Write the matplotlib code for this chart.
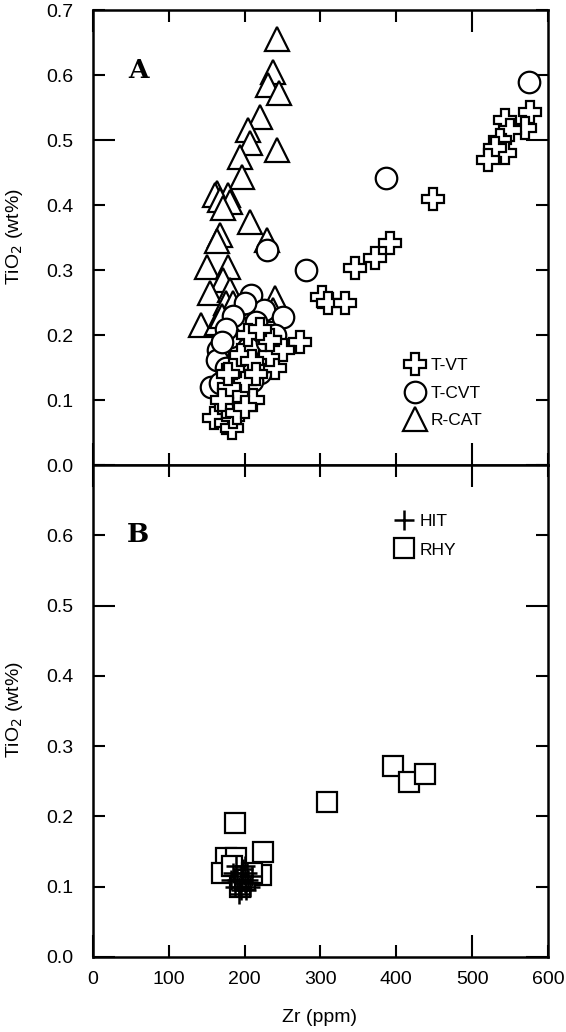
import matplotlib
matplotlib.use("Agg")
import matplotlib.pyplot as plt
from matplotlib.ticker import FixedLocator, MultipleLocator, FormatStrFormatter, NullFormatter

plt.rcParams['font.family'] = ['Liberation Sans', 'DejaVu Sans']

# ---- Panel A data (Zr ppm, TiO2 wt%) ----
tvt_zr = [543, 576, 570, 550, 537, 543, 530, 521, 448, 392, 372, 345, 302, 310, 332,
          273, 242, 240, 233, 251, 233, 211, 159, 176, 183, 185, 175, 190, 200, 185,
          195, 210, 180, 170, 205, 220, 190, 178, 200, 215]
tvt_ti = [0.531, 0.543, 0.518, 0.515, 0.500, 0.480, 0.488, 0.469, 0.410, 0.342, 0.318, 0.303, 0.258, 0.250, 0.250,
          0.190, 0.182, 0.149, 0.169, 0.177, 0.192, 0.100, 0.072, 0.064, 0.057, 0.074, 0.090, 0.110, 0.130, 0.150,
          0.170, 0.160, 0.120, 0.100, 0.200, 0.210, 0.080, 0.140, 0.090, 0.140]

tcvt_zr = [575, 387, 281, 229, 209, 225, 251, 194, 181, 165, 163, 156, 167, 196, 220,
           200, 215, 185, 175, 205, 230, 190, 175, 210, 180, 200, 230, 240, 170]
tcvt_ti = [0.590, 0.441, 0.300, 0.331, 0.262, 0.238, 0.228, 0.213, 0.197, 0.177, 0.162, 0.120, 0.126, 0.120, 0.141,
           0.250, 0.220, 0.230, 0.210, 0.180, 0.160, 0.150, 0.150, 0.130, 0.100, 0.100, 0.190, 0.200, 0.190]

rcat_zr = [242, 238, 231, 245, 220, 205, 207, 242, 194, 196, 163, 178, 161, 167, 181,
           172, 207, 229, 167, 163, 150, 178, 172, 154, 181, 240, 176, 238, 143, 163,
           194, 185, 170]
rcat_ti = [0.655, 0.605, 0.585, 0.572, 0.536, 0.515, 0.495, 0.485, 0.474, 0.443, 0.418, 0.415, 0.415, 0.408, 0.405,
           0.395, 0.374, 0.346, 0.354, 0.344, 0.305, 0.305, 0.285, 0.264, 0.270, 0.257, 0.249, 0.238, 0.215, 0.218,
           0.238, 0.250, 0.230]

# ---- Panel B data ----
hit_zr = [185, 190, 195, 200, 205, 192, 198, 188, 203, 195, 210, 182, 200, 193, 207, 187, 197, 202]
hit_ti = [0.120, 0.110, 0.115, 0.105, 0.110, 0.100, 0.125, 0.130, 0.120, 0.095, 0.115, 0.110, 0.130, 0.090,
          0.100, 0.100, 0.110, 0.095]

rhy_zr = [396, 417, 438, 309, 187, 224, 176, 189, 170, 222, 194, 183, 200, 210]
rhy_ti = [0.272, 0.249, 0.261, 0.221, 0.191, 0.150, 0.141, 0.141, 0.120, 0.117, 0.100, 0.129, 0.110, 0.120]

mk = dict(linestyle='none', markerfacecolor='white', markeredgecolor='black', markeredgewidth=1.6)

fig = plt.figure(figsize=(5.66, 10.32), dpi=100)
axA = fig.add_axes([0.1643, 0.5494, 0.8039, 0.4409])
axB = fig.add_axes([0.1643, 0.0727, 0.8039, 0.4767])

axA.plot(rcat_zr, rcat_ti, marker='^', markersize=17, label='R-CAT', **mk)
axA.plot(tcvt_zr, tcvt_ti, marker='o', markersize=15.5, label='T-CVT', **mk)
axA.plot(tvt_zr, tvt_ti, marker='P', markersize=16, label='T-VT', **mk)

axB.plot(rhy_zr, rhy_ti, marker='s', markersize=15, label='RHY', **mk)
axB.plot(hit_zr, hit_ti, marker='+', markersize=15, color='black', markeredgewidth=1.8,
         linestyle='none', label='HIT')

for ax in (axA, axB):
    ax.set_xlim(0, 600)
    ax.set_ylim(0, 0.7)
    for s in ax.spines.values():
        s.set_linewidth(1.8)
    ax.xaxis.set_major_locator(FixedLocator([0, 500]))
    ax.xaxis.set_minor_locator(MultipleLocator(100))
    ax.yaxis.set_major_locator(FixedLocator([0, 0.5]))
    ax.yaxis.set_minor_locator(MultipleLocator(0.1))
    ax.tick_params(which='both', direction='in', top=True, right=True, width=1.5,
                   labelsize=14, colors='black')
    ax.tick_params(which='major', length=16)
    ax.tick_params(which='minor', length=8.5)
    ax.tick_params(axis='y', which='both', pad=14)
    ax.tick_params(axis='x', which='both', pad=10)
    ax.yaxis.set_major_formatter(FormatStrFormatter('%.1f'))
    ax.yaxis.set_minor_formatter(FormatStrFormatter('%.1f'))

axA.xaxis.set_major_formatter(NullFormatter())
axA.xaxis.set_minor_formatter(NullFormatter())
axB.xaxis.set_major_formatter(FormatStrFormatter('%d'))
axB.xaxis.set_minor_formatter(FormatStrFormatter('%d'))
# hide 0.7 label on lower panel
axB.yaxis.set_minor_formatter(plt.FuncFormatter(lambda v, p: '' if v > 0.65 else '%.1f' % v))

hA, lA = axA.get_legend_handles_labels()
axA.legend(hA[::-1], lA[::-1], loc='center left', bbox_to_anchor=(0.67, 0.158), frameon=False,
           fontsize=12.5, handletextpad=0.3, labelspacing=0.7, handlelength=1.2, borderaxespad=0)
hB, lB = axB.get_legend_handles_labels()
axB.legend(hB[::-1], lB[::-1], loc='center left', bbox_to_anchor=(0.645, 0.856), frameon=False,
           fontsize=12.5, handletextpad=0.3, labelspacing=0.75, handlelength=1.2, borderaxespad=0)

axA.text(0.099, 0.868, 'A', transform=axA.transAxes, fontsize=19, fontweight='bold',
         family='DejaVu Serif', ha='center', va='center')
axB.text(0.099, 0.858, 'B', transform=axB.transAxes, fontsize=19, fontweight='bold',
         family='DejaVu Serif', ha='center', va='center')

fig.text(15 / 566, 1 - 237 / 1032, 'TiO$_2$ (wt%)', rotation=90, ha='center', va='center', fontsize=14)
fig.text(15 / 566, 1 - 710 / 1032, 'TiO$_2$ (wt%)', rotation=90, ha='center', va='center', fontsize=14)
fig.text(320 / 566, 1 - 1018 / 1032, 'Zr (ppm)', ha='center', va='center', fontsize=14)

fig.savefig('out.png', dpi=100)
